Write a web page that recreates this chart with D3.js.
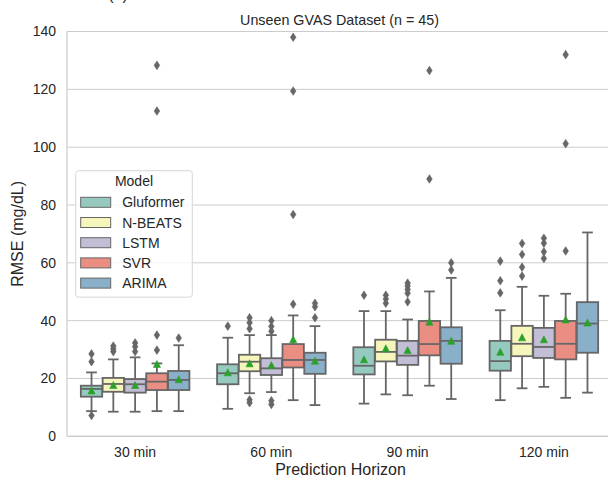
<!DOCTYPE html>
<html>
<head>
<meta charset="utf-8">
<script src="https://cdn.jsdelivr.net/npm/d3@7"></script>
<style>
  body { margin: 0; background: #fff; }
  text { font-family: "Liberation Sans", Arial, sans-serif; fill: #262626; }
</style>
</head>
<body>
<div id="chart"></div>
<script>
// categories
var horizons = ["30 min", "60 min", "90 min", "120 min"];
var models = ["Gluformer", "N-BEATS", "LSTM", "SVR", "ARIMA"];
var palette = ["#96cac1", "#f6f6bc", "#c1bed6", "#ea8e83", "#8aafc9"];

// box stats, one row per horizon, one value per model
var whiskerLow = [
    [8.7, 8.5, 8.5, 8.7, 8.7],
    [9.5, 14.9, 15.3, 12.5, 10.8],
    [11.3, 14.5, 14.2, 17.5, 12.9],
    [12.5, 16.6, 17.1, 13.3, 15.1]
];
var q1 = [
    [13.7, 15.4, 15.1, 16.0, 16.0],
    [18.0, 22.5, 21.2, 23.8, 21.6],
    [21.4, 25.9, 24.7, 28.0, 25.1],
    [22.7, 27.7, 27.1, 26.6, 28.9]
];
var median = [
    [16.4, 18.1, 18.0, 18.9, 19.5],
    [21.8, 25.8, 23.5, 26.4, 26.4],
    [24.4, 29.2, 27.9, 31.9, 33.0],
    [26.0, 32.0, 30.9, 32.0, 39.0]
];
var q3 = [
    [17.5, 20.2, 19.8, 21.8, 22.6],
    [24.9, 28.2, 27.0, 31.9, 28.9],
    [30.8, 33.4, 33.0, 39.9, 37.7],
    [33.0, 38.2, 37.5, 39.9, 46.4]
];
var whiskerHigh = [
    [22.1, 26.6, 27.3, 25.2, 31.5],
    [34.1, 35.0, 35.0, 41.8, 38.1],
    [43.3, 43.3, 40.4, 50.1, 54.8],
    [43.6, 51.7, 48.6, 49.3, 70.5]
];
var means = [
    [15.8, 17.7, 17.7, 25.0, 19.7],
    [22.1, 25.2, 24.6, 33.5, 26.1],
    [26.6, 30.4, 29.8, 39.6, 33.0],
    [29.2, 34.2, 33.5, 40.4, 39.3]
];
var outliers = [
    [[28.5, 25.8, 7.2], [31.2, 30.2, 29.3], [32.3, 31.0, 29.3], [128.3, 112.5, 35.0, 29.8], [34.0]],
    [[38.1], [41.0, 39.3, 37.2, 12.6, 11.6], [40.0, 38.0, 36.3, 12.3, 11.0], [138.0, 119.4, 76.7, 45.7], [46.0, 44.8, 41.0]],
    [[48.8], [48.8, 47.5, 46.0], [53.0, 52.0, 50.8, 49.5, 46.5], [126.5, 89.0], [60.0, 57.5]],
    [[60.6, 53.8, 49.6], [66.7, 62.9, 58.5, 55.4], [68.5, 66.8, 63.8, 61.5], [132.0, 101.2, 64.1], []]
];
var yTicks = [0, 20, 40, 60, 80, 100, 120, 140];

var width = 608, height = 481;
var mLeft = 67, mRight = 612, mTop = 31.5, mBottom = 436.3;
var grey = "#666666";

var svg = d3.select("#chart").append("svg")
    .attr("width", width)
    .attr("height", height);

// scales
var x = d3.scaleBand().domain(horizons).range([mLeft, mRight]);
var xHue = d3.scaleBand().domain(models).range([-x.bandwidth() * 0.4, x.bandwidth() * 0.4]);
var y = d3.scaleLinear().domain([0, 140]).range([mBottom, mTop]);
var boxW = xHue.bandwidth() * 0.98;

// grid
svg.append("g").selectAll("line")
    .data(yTicks)
    .enter().append("line")
    .attr("x1", mLeft).attr("x2", mRight)
    .attr("y1", function (d) { return y(d); })
    .attr("y2", function (d) { return y(d); })
    .attr("stroke", "#cccccc")
    .attr("stroke-width", 1);

// spines
svg.append("line").attr("x1", mLeft).attr("x2", mLeft).attr("y1", mTop).attr("y2", mBottom)
    .attr("stroke", "#cccccc").attr("stroke-width", 1.2);
svg.append("line").attr("x1", mLeft).attr("x2", mRight).attr("y1", mBottom).attr("y2", mBottom)
    .attr("stroke", "#cccccc").attr("stroke-width", 1.2);

// y axis labels
var yAxis = d3.axisLeft(y).tickValues(yTicks).tickSize(0).tickPadding(11);
var gy = svg.append("g").attr("transform", "translate(" + mLeft + ",0)").call(yAxis);
gy.select(".domain").remove();
gy.selectAll("text").style("font-size", "14px").attr("fill", "#262626")
    .style("font-family", "'Liberation Sans', Arial, sans-serif");

// x axis labels
var xAxis = d3.axisBottom(x).tickSize(0).tickPadding(11);
var gx = svg.append("g").attr("transform", "translate(0," + mBottom + ")").call(xAxis);
gx.select(".domain").remove();
gx.selectAll("text").style("font-size", "14px").attr("fill", "#262626")
    .style("font-family", "'Liberation Sans', Arial, sans-serif");

// boxes
var cells = [];
horizons.forEach(function (h, i) {
    models.forEach(function (m, j) {
        cells.push({ h: h, m: m, i: i, j: j });
    });
});

var boxes = svg.append("g").selectAll("g")
    .data(cells)
    .enter().append("g")
    .attr("transform", function (d) {
        return "translate(" + (x(d.h) + x.bandwidth() / 2 + xHue(d.m) + xHue.bandwidth() / 2) + ",0)";
    });

// whiskers
boxes.append("line")
    .attr("x1", 0).attr("x2", 0)
    .attr("y1", function (d) { return y(q3[d.i][d.j]); })
    .attr("y2", function (d) { return y(whiskerHigh[d.i][d.j]); })
    .attr("stroke", grey).attr("stroke-width", 1.8);
boxes.append("line")
    .attr("x1", 0).attr("x2", 0)
    .attr("y1", function (d) { return y(q1[d.i][d.j]); })
    .attr("y2", function (d) { return y(whiskerLow[d.i][d.j]); })
    .attr("stroke", grey).attr("stroke-width", 1.8);
// caps
boxes.selectAll("line.cap")
    .data(function (d) { return [whiskerLow[d.i][d.j], whiskerHigh[d.i][d.j]]; })
    .enter().append("line")
    .attr("class", "cap")
    .attr("x1", -boxW / 4).attr("x2", boxW / 4)
    .attr("y1", function (v) { return y(v); })
    .attr("y2", function (v) { return y(v); })
    .attr("stroke", grey).attr("stroke-width", 1.8);

// box body
boxes.append("rect")
    .attr("x", -boxW / 2)
    .attr("width", boxW)
    .attr("y", function (d) { return y(q3[d.i][d.j]); })
    .attr("height", function (d) { return y(q1[d.i][d.j]) - y(q3[d.i][d.j]); })
    .attr("fill", function (d) { return palette[d.j]; })
    .attr("stroke", grey).attr("stroke-width", 1.8);

// median
boxes.append("line")
    .attr("x1", -boxW / 2).attr("x2", boxW / 2)
    .attr("y1", function (d) { return y(median[d.i][d.j]); })
    .attr("y2", function (d) { return y(median[d.i][d.j]); })
    .attr("stroke", grey).attr("stroke-width", 1.8);

// fliers (thin diamonds)
boxes.selectAll("path.flier")
    .data(function (d) { return outliers[d.i][d.j]; })
    .enter().append("path")
    .attr("class", "flier")
    .attr("d", "M0,-4.3L2.8,0L0,4.3L-2.8,0Z")
    .attr("transform", function (v) { return "translate(0," + y(v) + ")"; })
    .attr("fill", grey).attr("stroke", grey).attr("stroke-width", 0.6);

// mean markers
boxes.append("path")
    .attr("d", "M0,-3.6L3.6,3.4L-3.6,3.4Z")
    .attr("transform", function (d) { return "translate(0," + y(means[d.i][d.j]) + ")"; })
    .attr("fill", "#2ca02c").attr("stroke", "#2ca02c").attr("stroke-width", 0.6);

// titles
svg.append("text")
    .attr("x", (mLeft + mRight) / 2).attr("y", 25)
    .attr("text-anchor", "middle")
    .style("font-size", "14.3px")
    .text("Unseen GVAS Dataset (n = 45)");

svg.append("text")
    .attr("x", 118).attr("y", 0)
    .attr("text-anchor", "middle")
    .style("font-size", "16px")
    .text("(b)");

svg.append("text")
    .attr("x", (mLeft + mRight) / 2 + 1).attr("y", 475)
    .attr("text-anchor", "middle")
    .style("font-size", "16px")
    .text("Prediction Horizon");

svg.append("text")
    .attr("transform", "translate(23," + ((mTop + mBottom) / 2) + ") rotate(-90)")
    .attr("text-anchor", "middle")
    .style("font-size", "16px")
    .text("RMSE (mg/dL)");

// legend
var lg = svg.append("g").attr("transform", "translate(75.7,170.7)");
lg.append("rect")
    .attr("width", 116.6).attr("height", 126.5)
    .attr("rx", 3)
    .attr("fill", "#ffffff").attr("fill-opacity", 0.8)
    .attr("stroke", "#d6d6d6").attr("stroke-width", 1);
lg.append("text")
    .attr("x", 58.3).attr("y", 15.5)
    .attr("text-anchor", "middle")
    .style("font-size", "14px")
    .text("Model");
var rows = lg.selectAll("g.row")
    .data(models)
    .enter().append("g")
    .attr("class", "row")
    .attr("transform", function (d, k) { return "translate(0," + (31.6 + k * 20.2) + ")"; });
rows.append("rect")
    .attr("x", 5).attr("y", -5)
    .attr("width", 30).attr("height", 10)
    .attr("fill", function (d, k) { return palette[k]; })
    .attr("stroke", grey).attr("stroke-width", 1);
rows.append("text")
    .attr("x", 46.5).attr("y", 5)
    .style("font-size", "14px")
    .text(function (d) { return d; });
</script>
</body>
</html>
